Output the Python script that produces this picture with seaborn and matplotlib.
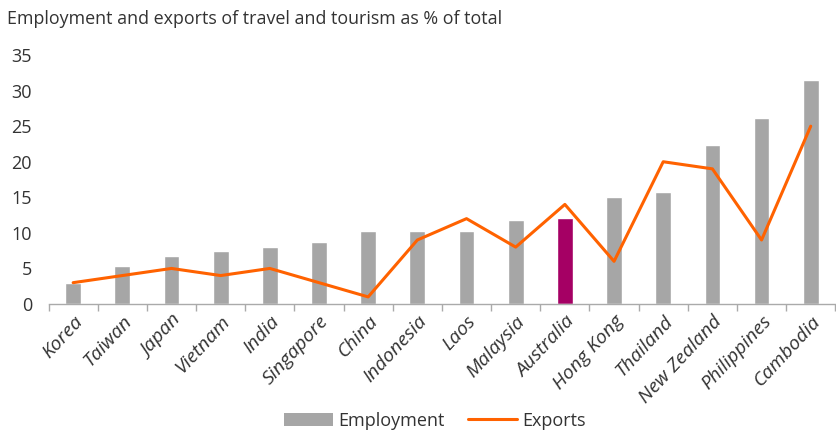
import numpy as np
import pandas as pd
import matplotlib
matplotlib.use("Agg")
import matplotlib.pyplot as plt
import seaborn as sns
from matplotlib.patches import Patch
from matplotlib.lines import Line2D

countries = ["Korea", "Taiwan", "Japan", "Vietnam", "India", "Singapore", "China",
             "Indonesia", "Laos", "Malaysia", "Australia", "Hong Kong", "Thailand",
             "New Zealand", "Philippines", "Cambodia"]
employment = [3.0, 5.4, 6.8, 7.4, 8.0, 8.7, 10.3, 10.3, 10.3, 11.8, 12.1, 15.0, 15.8, 22.3, 26.2, 31.5]
exports = [3, 4, 5, 4, 5, 3, 1, 9, 12, 8, 14, 6, 20, 19, 9, 25]
highlight = "Australia"
yticks = [0, 5, 10, 15, 20, 25, 30, 35]

GREY = "#A6A6A6"
MAGENTA = "#A50064"
ORANGE = "#FF6200"
TEXT = "#333333"

sns.set_theme(style="white")
plt.rcParams["font.family"] = ["Open Sans", "DejaVu Sans"]

df = pd.DataFrame({"country": countries, "employment": employment, "exports": exports})
palette = {c: (MAGENTA if c == highlight else GREY) for c in countries}

fig = plt.figure(figsize=(8.37, 4.30), dpi=100)
ax = fig.add_axes([0.058, 0.293, 0.940, 0.579])

sns.barplot(data=df, x="country", y="employment", hue="country", palette=palette,
            legend=False, width=0.32, saturation=1, ax=ax)
sns.lineplot(x=np.arange(len(countries)), y=exports, color=ORANGE, linewidth=2.2, ax=ax)

ax.set_xlim(-0.5, len(countries) - 0.5)
ax.set_ylim(0, 35)
ax.set_yticks(yticks)
ax.set_yticklabels([str(v) for v in yticks], fontsize=13, color=TEXT)
ax.set_xlabel("")
ax.set_ylabel("")
ax.set_xticks(np.arange(len(countries)))
ax.set_xticklabels(countries, rotation=47, ha="right", rotation_mode="anchor",
                   fontsize=14, style="italic", color=TEXT)
ax.set_xticks(np.arange(-0.5, len(countries)), minor=True)
ax.tick_params(axis="x", which="major", length=0, pad=6)
ax.tick_params(axis="x", which="minor", length=5, color="#AAAAAA", width=1, direction="out", bottom=True)
ax.tick_params(axis="y", length=0, pad=12)

for s in ["top", "right", "left"]:
    ax.spines[s].set_visible(False)
ax.spines["bottom"].set_color("#AAAAAA")
ax.spines["bottom"].set_linewidth(1)

fig.text(0.008, 0.955, "Employment and exports of travel and tourism as % of total",
         fontsize=12.9, color=TEXT, ha="left", va="center")

handles = [Patch(facecolor=GREY, edgecolor="none", label="Employment"),
           Line2D([0], [0], color=ORANGE, linewidth=2.2, label="Exports")]
fig.legend(handles=handles, loc="center", bbox_to_anchor=(0.52, 0.022), ncol=2,
           frameon=False, fontsize=13, handlelength=2.7, handleheight=0.7,
           columnspacing=1.3, handletextpad=0.3, labelcolor=TEXT)

fig.savefig("out.png", dpi=100)
